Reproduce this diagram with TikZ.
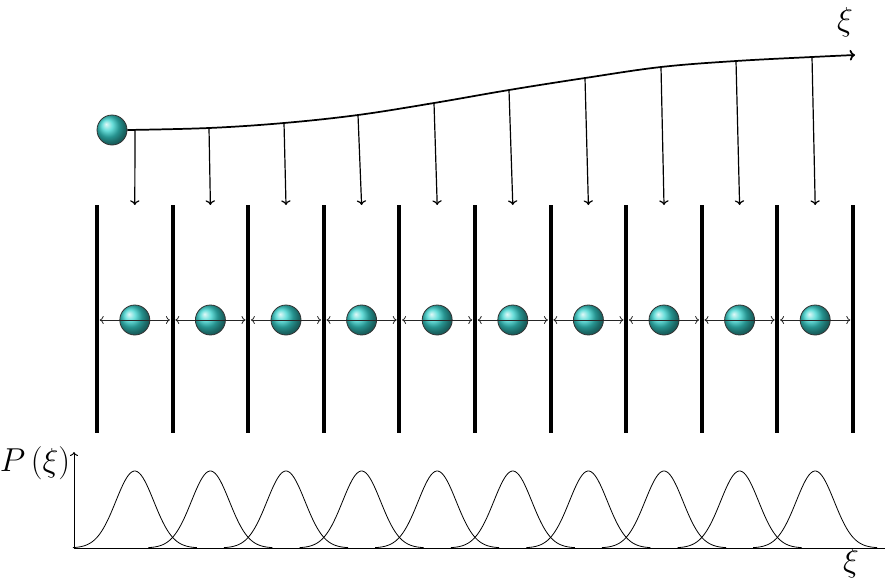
\documentclass[tikz,border=0pt]{standalone}
\usepackage{amsmath,amssymb}
\usepackage{tikz}
\usepackage{xcolor}
\usetikzlibrary{arrows.meta,calc}
\definecolor{ballcol}{RGB}{55,210,205}

\tikzset{
  ball/.style={circle, shading=ball, ball color=ballcol, draw=black!80, line width=0.6pt, minimum size=22.5pt, inner sep=0pt},
  wall/.style={line width=3pt},
  drop/.style={-{To[length=3.5pt, width=7pt]}, line width=0.9pt},
  bounce/.style={{To[length=3pt, width=6pt]}-{To[length=3pt, width=6pt]}, line width=0.6pt, black!85},
  bump/.style={line width=0.6pt},
  lbl/.style={font=\fontsize{23}{26}\selectfont, inner sep=0pt}
}

\begin{document}
\begin{tikzpicture}[x=0.75pt, y=-0.75pt, >=To]
    \useasboundingbox (0,0) rectangle (885,579);

    % Walls of the cells
    \foreach \i in {0,...,10} {
        \coordinate (wt\i) at ({97+75.6*\i},205);
        \coordinate (wb\i) at ({97+75.6*\i},433);
        \coordinate (wm\i) at ({97+75.6*\i},320);
        \draw[wall] (wt\i) -- (wb\i);
    }

    % Balls in the cells, bouncing between walls
    \foreach \i [evaluate=\i as \j using int(\i+1)] in {0,...,9} {
        \node[ball] (b\i) at ({134.8+75.6*\i},320) {};
        \draw[bounce, shorten <=2pt, shorten >=2pt] (wm\i) -- (wm\j);
    }

    % Drifting ball and its path
    \node[ball] (top) at (112,130) {};
    \foreach \i/\xt/\yt in {0/135/130, 1/209/128, 2/284/123, 3/358/115, 4/434/103,
                            5/509/90, 6/585/78, 7/661/67, 8/736/61, 9/812/57} {
        \coordinate (c\i) at (\xt,\yt);
        \coordinate (d\i) at ({134.8+75.6*\i},205);
    }
    \coordinate (cend) at (855,55);
    \draw[-{To[length=4pt, width=8pt]}, line width=1.3pt] plot[smooth, tension=0.6] coordinates
        {(top.east) (c1) (c2) (c3) (c4) (c5) (c6) (c7) (c8) (c9) (cend)};
    \node[lbl] (xitop) at (845,22) {$\xi$};

    % Drops onto the cells
    \foreach \i in {0,...,9}
        \draw[drop] (c\i) -- (d\i);

    % Distribution P(xi)
    \coordinate (o) at (74,548);
    \coordinate (ytop) at (74,452);
    \coordinate (xend) at (885,548);
    \draw[-{To[length=3pt, width=6pt]}, line width=0.7pt] (o) -- (ytop);
    \draw[line width=0.7pt] (o) -- (xend);
    \node[lbl] (pxi) at (35,463) {$P\,(\xi)$};
    \node[lbl] (xibot) at (851,563) {$\xi$};
    \foreach \i in {0,...,9} {
        \pgfmathsetmacro{\cx}{134.8+75.6*\i}
        \draw[bump] plot[domain=-62:62, samples=70, smooth]
            ({\cx+\x},{548-77*exp(-\x*\x/722)});
    }
\end{tikzpicture}
\end{document}
